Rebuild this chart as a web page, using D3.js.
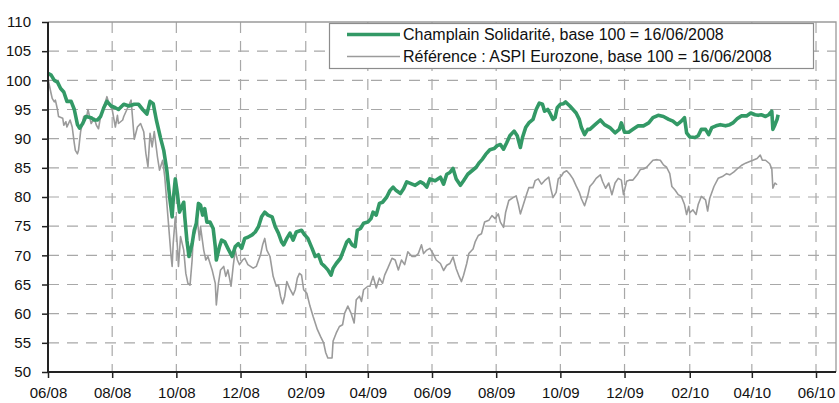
<!DOCTYPE html>
<html>
<head>
<meta charset="utf-8">
<script src="https://cdn.jsdelivr.net/npm/d3@7"></script>
<style>
  html, body { margin: 0; padding: 0; background: #fff; }
  svg { display: block; font-family: "Liberation Sans", Arial, sans-serif; }
</style>
</head>
<body>
<svg id="chart" width="839" height="403"></svg>
<script>
// ---- DATA (days since 16/06/2008, index value base 100) ----
const baseDate = "2008-06-16";
const seriesNames = ["Champlain Solidarité, base 100 = 16/06/2008",
                     "Référence : ASPI Eurozone, base 100 = 16/06/2008"];

const champlainDays = [0,3,6,9,12,15,18,22,25,28,30,33,36,41,44,47,50,53,56,60,64,67,72,77,82,86,90,94,97,100,103,107,
  110,113,116,118,119,121,123,125,127,129,130,132,134,137,139,141,143,145,147,149,151,154,157,159,160,163,165,168,171,175,178,181,184,187,190,194,197,200,203,206,209,213,216,219,222,224,227,
  230,233,236,241,244,247,251,254,257,260,263,266,269,271,274,278,281,284,286,289,292,294,297,300,304,307,309,312,315,318,322,325,328,331,335,338,341,345,349,354,357,360,363,368,
  373,376,379,382,385,388,392,395,399,403,407,410,413,416,420,424,427,430,433,436,439,443,446,449,451,454,457,461,464,467,470,472,475,477,480,482,484,487,490,492,496,499,502,505,507,510,513,
  515,520,525,529,534,539,543,545,548,552,556,561,566,571,575,580,585,590,594,598,602,605,607,610,615,618,621,625,628,631,635,639,644,648,651,655,659,664,668,672,675,678,682,685,688,689,691,693,694];
const champlainValues = [101.2,100.9,100,99.7,98.6,98,96.4,96.4,95,92.4,91.8,92.6,93.8,93.6,93.2,93.2,93.8,95.3,96.4,95.6,95.3,95,95.9,95.6,95.9,95.9,95,94.2,96.4,96,93.2,90.1,
  88,84.5,79.4,76.6,79.4,83.1,80.6,77.4,78.3,79.1,76.6,72.6,69.8,72,74.3,75.5,78.9,78.6,76.9,78,75.7,75.7,74.6,71.5,69.2,71.5,72.6,72.3,71.2,69.8,71.5,72,71.2,72.9,73.1,73.5,74,74.9,76.6,77.4,76.9,76.6,74.9,73.8,72.3,71.8,72.9,
  73.8,72.6,74,74.3,73.5,72.9,71.2,69.8,70.1,68.6,68.1,67.5,66.6,67.8,68.6,69.5,70.9,72.3,72.7,71.8,71.5,74.3,74.6,75.5,75.7,76.3,77.4,76.9,78.9,79.1,80,81.1,81.7,81.1,80.6,81.4,82.6,82.3,82,82.6,82.3,81.7,83.1,82.8,
  83.4,82.2,83.9,84.2,84.9,83.1,82,82.8,83.9,84.5,85.1,85.9,86.5,87.3,88.1,88.3,88.8,89,88.2,89.3,90.5,91.3,90.5,88.5,90.2,91.9,92.7,93.3,95,96.1,95.9,94.7,95,94.4,93.3,93.6,95.3,95.9,96,96.3,95.6,95,94.4,93.3,91.9,90.7,91.6,
  91.6,92.4,93.2,92.4,91.9,91,91.6,92.7,91.1,91.1,91.6,92.2,92.2,92.7,93.6,94,93.8,93.3,93,92.4,93,93.6,91,90.3,90.2,90.5,91.6,91.6,90.7,91.9,92.2,92.4,92.2,92.4,92.7,93.4,93.9,93.9,94.4,94.1,94,94.1,93.8,94.1,94.7,91.6,92.4,93.3,94.1];

const aspiDays = [0,1,3,4,6,7,9,10,14,15,17,18,21,23,25,26,28,29,31,33,34,37,38,41,44,46,48,50,53,55,56,58,61,64,66,67,71,72,75,79,82,85,88,91,93,95,97,99,101,104,106,109,
  111,114,117,118,119,121,123,124,126,129,131,133,135,137,138,140,142,144,145,148,150,152,156,159,160,162,164,167,169,171,174,176,178,180,182,185,187,190,195,198,202,204,206,208,211,214,217,219,221,223,225,227,
  230,233,235,237,239,241,243,246,249,252,254,256,259,262,264,266,270,271,274,277,280,282,285,288,291,293,296,298,300,304,306,309,312,315,318,320,323,327,330,333,336,339,342,346,349,352,355,357,360,363,366,369,
  373,376,379,382,385,388,391,393,395,398,400,404,406,409,412,415,419,422,425,428,430,433,435,438,442,445,447,449,452,455,457,461,463,466,469,472,476,478,480,483,485,488,490,493,496,499,502,505,507,510,513,
  515,518,521,525,527,530,533,536,539,542,545,547,550,553,556,560,563,566,569,572,575,579,582,585,588,591,593,596,599,602,605,607,609,610,613,616,618,621,625,627,629,633,637,641,645,648,652,655,659,663,667,670,674,677,679,682,686,688,689,691,693];
const aspiValues = [100.3,99.4,97.7,96.9,96.3,96.6,95,93.8,93.5,92.3,92.9,92,93.2,92,89.2,88,87.4,88,91.2,92.9,93.8,94,95,92.6,93.5,92.3,91.7,93.8,95.5,96.6,97.2,96,95,92,94,92.6,93.2,93.8,95,96.6,89.9,92,92.6,91.2,87.5,85.2,90.9,88.6,91.2,86.9,84.6,86.3,
  83.4,76.6,69.8,68.1,72,76.6,71.5,68.1,73.2,70.9,66.9,65.2,64.9,69.2,73.2,74,76,72.6,74.9,70.9,69.2,69.8,67.5,65.2,61.5,65.2,67.5,68.1,66.4,67.5,64.7,68.1,70.9,69.2,68.4,69.2,69.5,68.4,67.8,68.1,70.1,71.8,72.9,70.9,69.8,66.4,64.7,64.9,63,61.7,63,65.5,
  64.2,63.2,64.1,66.1,66.9,66.6,64.1,63.5,61.3,59.5,58.4,57.3,56.1,55,53.3,52.4,52.4,55.3,56.7,57.8,58.1,60.1,61.3,60.1,58.4,62.4,63,62.1,64.1,64.7,64.7,66.4,64.4,66.1,65.2,66.6,67.8,69.5,69.2,67.5,69.2,68.4,70.6,69.8,69.8,70.3,71.8,70.3,70.9,71.2,70.3,69.2,
  68.6,67.4,68.3,68.6,69.7,67.7,66.3,65.5,66.6,68.6,70.3,71.1,72.3,73.4,73.7,75.7,76,76.8,76.3,77.1,75.7,74.8,77.4,79.4,79.9,80.2,78.8,77.1,78.8,80.5,81.6,81.6,82.8,83.1,82.2,82.8,83.4,81.4,79.9,80.8,83.1,83.6,84.2,84.5,83.9,83.1,81.9,80.8,79.7,78.5,80.2,
  81.8,82.4,83.2,83.8,82.7,81.5,82.4,80.4,82.4,83.2,82.9,80.4,82.7,82.9,82.9,83.8,84.7,84.8,85.1,85.7,86.3,86.4,86.3,85.5,85.1,84,81.8,81.2,80.4,80.1,78.7,77,78.4,77.3,77.8,77,78.7,80.1,79.5,77.6,79.8,81.8,83.2,83.5,84,83.8,84.3,84.8,85.4,85.8,86.1,86.3,86.6,87.2,86.3,86.3,85.7,84.8,81.5,82.4,82.1];

const yTicks = [50,55,60,65,70,75,80,85,90,95,100,105,110];
const xTickLabels = ["06/08","08/08","10/08","12/08","02/09","04/09","06/09","08/09","10/09","12/09","02/10","04/10","06/10"];

// ---- CHART ----
const svg = d3.select("#chart");
const plot = {left: 48, right: 836, top: 22, bottom: 372};
const base = new Date(baseDate + "T00:00:00Z");
const dayToDate = d => d3.utcDay.offset(base, d);

const x = d3.scaleUtc()
  .domain([base, d3.utcDay.offset(base, 749)])
  .range([plot.left, plot.right]);
const y = d3.scaleLinear().domain([50, 110]).range([plot.bottom, plot.top]);

const xTickDates = xTickLabels.map((_, i) => d3.utcMonth.offset(base, 2 * i));

const gridColor = "#a8a8a8";
// horizontal gridlines
svg.append("g").selectAll("line")
  .data(yTicks.filter(v => v > 50 && v < 110))
  .join("line")
  .attr("x1", plot.left).attr("x2", plot.right)
  .attr("y1", d => y(d)).attr("y2", d => y(d))
  .attr("stroke", gridColor).attr("stroke-width", 1.2)
  .attr("stroke-dasharray", "11,8");
// vertical gridlines
svg.append("g").selectAll("line")
  .data(xTickDates.slice(1))
  .join("line")
  .attr("x1", d => x(d)).attr("x2", d => x(d))
  .attr("y1", plot.top).attr("y2", plot.bottom)
  .attr("stroke", gridColor).attr("stroke-width", 1.2)
  .attr("stroke-dasharray", "11,8");

// top & right frame
svg.append("path")
  .attr("d", `M${plot.left},${plot.top}H${plot.right}V${plot.bottom}`)
  .attr("fill", "none").attr("stroke", "#9a9a9a").attr("stroke-width", 1.3);

// lines
const line = d3.line().x(d => x(d.date)).y(d => y(d.v));
const aspi = aspiDays.map((d, i) => ({date: dayToDate(d), v: aspiValues[i]}));
const champ = champlainDays.map((d, i) => ({date: dayToDate(d), v: champlainValues[i]}));

svg.append("path").datum(aspi).attr("d", line)
  .attr("fill", "none").attr("stroke", "#9b9b9b").attr("stroke-width", 1.6)
  .attr("stroke-linejoin", "round");
svg.append("path").datum(champ).attr("d", line)
  .attr("fill", "none").attr("stroke", "#339966").attr("stroke-width", 3.6)
  .attr("stroke-linejoin", "round");

// axes
const yAxis = d3.axisLeft(y).tickValues(yTicks).tickSize(6).tickPadding(11).tickFormat(d3.format("d"));
const gy = svg.append("g").attr("transform", `translate(${plot.left},0)`).call(yAxis);
const xAxis = d3.axisBottom(x).tickValues(xTickDates).tickSize(6).tickPadding(9)
  .tickFormat((d, i) => xTickLabels[i]);
const gx = svg.append("g").attr("transform", `translate(0,${plot.bottom})`).call(xAxis);

[gx, gy].forEach(g => {
  g.select(".domain").attr("stroke", "#222").attr("stroke-width", 2);
  g.selectAll(".tick line").attr("stroke", "#222").attr("stroke-width", 1.5);
  g.selectAll(".tick text").attr("fill", "#111").attr("font-size", 15)
    .attr("font-family", "'Liberation Sans', Arial, sans-serif");
});
gy.select(".domain").attr("d", `M0,${plot.top}V${plot.bottom}`);
gx.select(".domain").attr("d", `M${plot.left},0H${plot.right}`);

// legend
const lg = svg.append("g");
lg.append("rect").attr("x", 329.5).attr("y", 23.5).attr("width", 484).attr("height", 45)
  .attr("fill", "#fff").attr("stroke", "#8c8c8c").attr("stroke-width", 1.2);
const legendItems = [
  {name: seriesNames[0], color: "#339966", w: 3.6, yy: 34.5},
  {name: seriesNames[1], color: "#9b9b9b", w: 1.6, yy: 56.5}
];
legendItems.forEach(it => {
  lg.append("line").attr("x1", 347).attr("x2", 400).attr("y1", it.yy).attr("y2", it.yy)
    .attr("stroke", it.color).attr("stroke-width", it.w);
  lg.append("text").attr("x", 403).attr("y", it.yy + 5.5)
    .attr("font-size", 16).attr("fill", "#111").text(it.name);
});
</script>
</body>
</html>
